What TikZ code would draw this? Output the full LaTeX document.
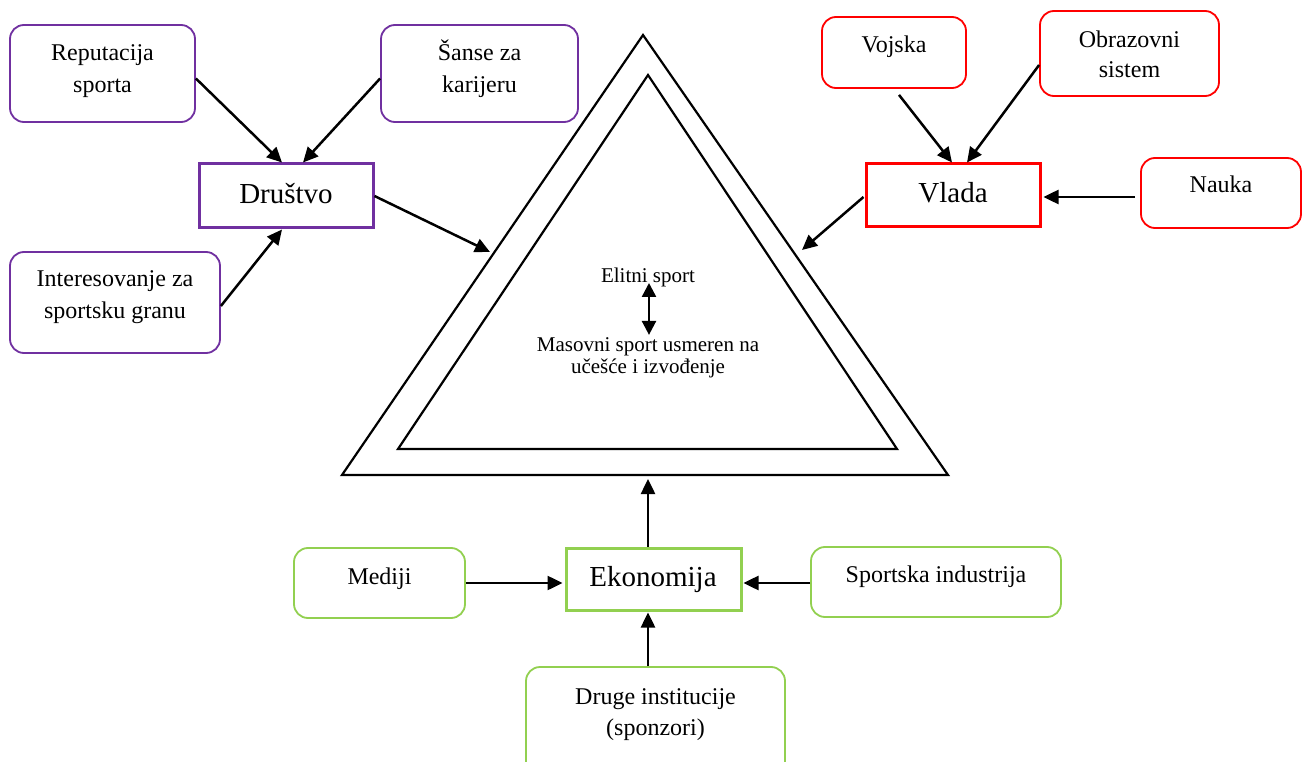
\documentclass[tikz,border=0pt]{standalone}
\usepackage{fontspec}
\setmainfont{Liberation Serif}
\usetikzlibrary{arrows.meta,calc}
\definecolor{vio}{HTML}{7030A0}
\definecolor{grn}{HTML}{92D050}
\definecolor{rd}{HTML}{FF0000}
\begin{document}
\begin{tikzpicture}[x=1pt,y=-1pt,
 sbox/.style={draw=#1, line width=1.8pt, rounded corners=14pt, inner sep=0pt},
 mbox/.style={draw=#1, line width=3pt, inner sep=0pt},
 txt/.style={anchor=base, inner sep=0pt, font=\fontsize{24}{28}\selectfont},
 big/.style={anchor=base, inner sep=0pt, font=\fontsize{29}{34}\selectfont},
 ctr/.style={anchor=base, inner sep=0pt, font=\fontsize{21}{24}\selectfont},
 arr/.style={line width=2.5pt, -{Triangle[length=15pt,width=14pt]}},
 darr/.style={line width=2.5pt, {Triangle[length=14pt,width=14pt]}-{Triangle[length=14pt,width=14pt]}},
 tri/.style={line width=2.2pt, line join=miter}]
\useasboundingbox[fill=white] (0,0) rectangle (1302,762);

% triangles
\draw[tri] (643,35) -- (342,475) -- (948,475) -- cycle;
\draw[tri] (648,75) -- (398,449) -- (897,449) -- cycle;
\coordinate (t1) at (490,252);
\coordinate (t2) at (802,250);
\coordinate (t3) at (648,479);

% Drustvo group
\node[sbox=vio, minimum width=185pt, minimum height=97pt] (rep) at (102.5,73.5) {};
\node[sbox=vio, minimum width=197pt, minimum height=97pt] (san) at (479.5,73.5) {};
\node[mbox=vio, minimum width=174pt, minimum height=64pt] (drus) at (286,196) {};
\node[sbox=vio, minimum width=210pt, minimum height=101pt] (int) at (115,302.5) {};
\node[txt] at (102.5,61) {Reputacija};
\node[txt] at (102.5,93) {sporta};
\node[txt] at (479.5,61) {Šanse za};
\node[txt] at (479.5,93) {karijeru};
\node[big] at (286,204) {Društvo};
\node[txt] at (115,287) {Interesovanje za};
\node[txt] at (115,319) {sportsku granu};

% Vlada group
\node[sbox=rd, minimum width=144pt, minimum height=71pt] (voj) at (894,52.5) {};
\node[sbox=rd, minimum width=179pt, minimum height=85pt] (obr) at (1129.5,53.5) {};
\node[mbox=rd, minimum width=174pt, minimum height=63pt] (vlada) at (953,195.5) {};
\node[sbox=rd, minimum width=160pt, minimum height=70pt] (nauka) at (1221,193) {};
\node[txt] at (894,53) {Vojska};
\node[txt] at (1129.5,48) {Obrazovni};
\node[txt] at (1129.5,78) {sistem};
\node[big] at (953,203) {Vlada};
\node[txt] at (1221,193) {Nauka};

% Ekonomija group
\node[mbox=grn, minimum width=175pt, minimum height=62pt] (ekon) at (653.5,579) {};
\node[sbox=grn, minimum width=171pt, minimum height=70pt] (med) at (379.5,583) {};
\node[sbox=grn, minimum width=250pt, minimum height=70pt] (sport) at (936,582) {};
\node[sbox=grn, minimum width=259pt, minimum height=125pt] (druge) at (655.5,729.5) {};
\node[big] at (653,586) {Ekonomija};
\node[txt] at (379.5,584) {Mediji};
\node[txt] at (936,582) {Sportska industrija};
\node[txt] at (655.5,704) {Druge institucije};
\node[txt] at (655.5,735) {(sponzori)};

% center
\node[ctr] (eli) at (648,283) {Elitni sport};
\node[ctr] (mas) at (648,352) {Masovni sport usmeren na};
\node[ctr] at (648,373) {učešće i izvođenje};
\draw[darr] ($(eli.base)+(1,0)$) -- ($(mas.north)+(1,-3)$);

% arrows
\draw[arr] ($(rep.east)+(0,5)$) -- ($(drus.north)+(-4,0)$);
\draw[arr] ($(san.west)+(0,5)$) -- ($(drus.north)+(17,0)$);
\draw[arr] ($(int.east)+(0,3.5)$) -- ($(drus.south)+(-4,0)$);
\draw[arr] (drus.east) -- (t1);
\draw[arr] ($(voj.south)+(5,6)$) -- ($(vlada.north)+(-1,0)$);
\draw[arr] ($(obr.west)+(0,11.5)$) -- ($(vlada.north)+(14,0)$);
\draw[arr] ($(nauka.west)+(-5,4)$) -- ($(vlada.east)+(2,1.5)$);
\draw[arr] ($(vlada.west)+(-1,1.5)$) -- (t2);
\draw[arr] ($(ekon.north)+(-5.5,0)$) -- (t3);
\draw[arr] (med.east) -- ($(ekon.west)+(-2,4)$);
\draw[arr] ($(sport.west)+(0,1)$) -- ($(ekon.east)+(1,4)$);
\draw[arr] ($(druge.north)+(-7.5,0)$) -- ($(ekon.south)+(-5.5,1)$);
\end{tikzpicture}
\end{document}
